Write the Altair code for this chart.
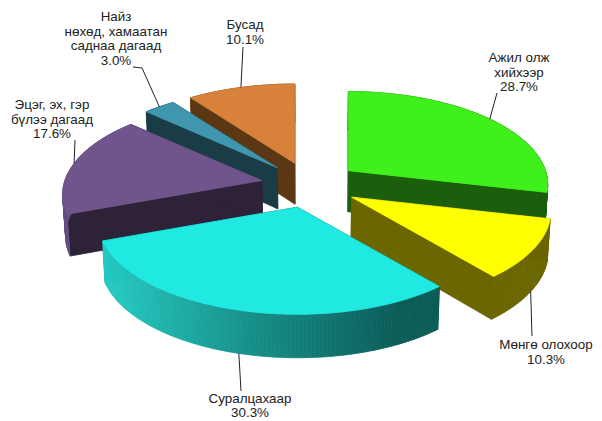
import math
import altair as alt

# ---- chart values ----
categories = ["Ажил олж хийхээр", "Мөнгө олохоор", "Суралцахаар",
              "Эцэг, эх, гэр бүлээ дагаад", "Найз нөхөд, хамаатан саднаа дагаад", "Бусад"]
values = [28.7, 10.3, 30.3, 17.6, 3.0, 10.1]
label_lines = [["Ажил олж", "хийхээр", "28.7%"], ["Мөнгө олохоор", "10.3%"], ["Суралцахаар", "30.3%"],
               ["Эцэг, эх, гэр", "бүлээ дагаад", "17.6%"],
               ["Найз", "нөхөд, хамаатан", "саднаа дагаад", "3.0%"], ["Бусад", "10.1%"]]
top_colors = ["#3ff01a", "#ffff00", "#1fe9e1", "#6f558c", "#3f96ae", "#d8813a"]
side_colors = ["#1b5e0c", "#6b6600", "#0c5c58", "#2d2238", "#1a3c47", "#5c3714"]
wall_colors = ["#1b5e0c", "#6b6600", "#0c5c58", "#664e82", "#1a3c47", "#5c3714"]
cyan_ramp = ["#25cdc5", "#18908a", "#0c5c58"]

# ---- layout (not data) ----
CX, CY, R0, TILT, K = 310, 185, 197, 91, 0.15
EX, EY, DEPTH, DK, CONV = 49, 23, 41, 0.06, 0.012
OFF = 8
draw_order = [5, 4, 3, 0, 1, 2]
label_x = [519, 546, 250, 52, 116, 245]
label_y0 = [58, 345, 398.5, 105, 17, 25]
line_h = 14.7
leader_via = [[(497, 93)], [(532, 336)], [(241, 391)], [(75, 140)], [(142, 68), (133, 67)], [(243, 47)]]


def project(a, m, r=1.0, down=False):
    """a: angle on the rim, m: middle angle of the slice (explosion direction)."""
    c = math.cos(a) * r
    s = 1 / (1 + K * c)
    x = CX + EX * math.sin(m) + R0 * math.sin(a) * r * s
    y = CY - EY * math.cos(m) - TILT * c * s
    if down:
        x = CX + (x - CX) * (1 - CONV)
        y = y + DEPTH * (1 - DK * c)
    return (x - OFF, y - OFF)


def hex2rgb(h):
    return [int(h[i:i + 2], 16) for i in (1, 3, 5)]


def ramp(t):
    t = max(0, min(1, t)) * (len(cyan_ramp) - 1)
    i = min(int(t), len(cyan_ramp) - 2)
    a, b = hex2rgb(cyan_ramp[i]), hex2rgb(cyan_ramp[i + 1])
    return "#%02x%02x%02x" % tuple(round(p + (q - p) * (t - i)) for p, q in zip(a, b))


total = sum(values)
starts, cum = [], 0
for v in values:
    starts.append(cum / total * 2 * math.pi)
    cum += v
ends = starts[1:] + [2 * math.pi]


def poly(points, color):
    ring = [list(p) for p in points] + [list(points[0])]
    return {"type": "Feature", "properties": {"fill": color},
            "geometry": {"type": "Polygon", "coordinates": [ring]}}


features = []
for i in draw_order:
    a0, a1 = starts[i], ends[i]
    m = (a0 + a1) / 2
    n = max(4, int((a1 - a0) / math.radians(1)))
    angles = [a0 + (a1 - a0) * j / n for j in range(n + 1)]
    apex_t, apex_b = project(0, m, 0), project(0, m, 0, True)
    # cut faces
    for a in (a0, a1):
        features.append(poly([apex_t, project(a, m), project(a, m, 1, True), apex_b], side_colors[i]))
    # outer wall
    for j in range(n):
        p, q = angles[j], angles[j + 1]
        col = wall_colors[i]
        if i == 2:
            col = ramp(((project(p, m)[0] + OFF) - 101) / (400 - 101))
        features.append(poly([project(p, m), project(q, m), project(q, m, 1, True), project(p, m, 1, True)], col))
    # top
    features.append(poly([apex_t] + [project(a, m) for a in angles], top_colors[i]))

wedges = alt.Chart(alt.Data(values=features)).mark_geoshape(strokeWidth=0.8).encode(
    color=alt.Color("properties.fill:N", scale=None),
    stroke=alt.Stroke("properties.fill:N", scale=None),
).project(type="identity", scale=1, translate=[0, 0])

# leaders
leader_rows = []
for i in range(len(values)):
    m = (starts[i] + ends[i]) / 2
    front = math.cos(m) < -0.3
    p0 = project(m, m, 1, front)
    pts = [p0] + [(x - OFF, y - OFF) for x, y in leader_via[i]]
    for k, (x, y) in enumerate(pts):
        leader_rows.append({"cat": categories[i], "k": k, "x": x, "y": y})

# labels
text_rows = []
for i, lines in enumerate(label_lines):
    for j, t in enumerate(lines):
        text_rows.append({"t": t, "x": label_x[i] - OFF, "y": label_y0[i] + j * line_h - OFF})

W, H = 586, 413
xs = alt.Scale(domain=[0, W], range=[0, W])
ys = alt.Scale(domain=[0, H], range=[0, H])

leaders = alt.Chart(alt.Data(values=leader_rows)).mark_line(color="#222222", strokeWidth=1).encode(
    x=alt.X("x:Q", scale=xs, axis=None),
    y=alt.Y("y:Q", scale=ys, axis=None),
    detail="cat:N",
    order="k:Q",
)
labels = alt.Chart(alt.Data(values=text_rows)).mark_text(
    font="Liberation Sans", fontSize=13.4, color="#222222", align="center", baseline="middle"
).encode(
    x=alt.X("x:Q", scale=xs, axis=None),
    y=alt.Y("y:Q", scale=ys, axis=None),
    text="t:N",
)

chart = alt.layer(wedges, leaders, labels).properties(
    width=W, height=H, padding=0, background="#ffffff", autosize=alt.AutoSizeParams(type="none")
).configure_view(stroke=None)
chart.save("out.html", embed_options={"renderer": "svg", "actions": False})
